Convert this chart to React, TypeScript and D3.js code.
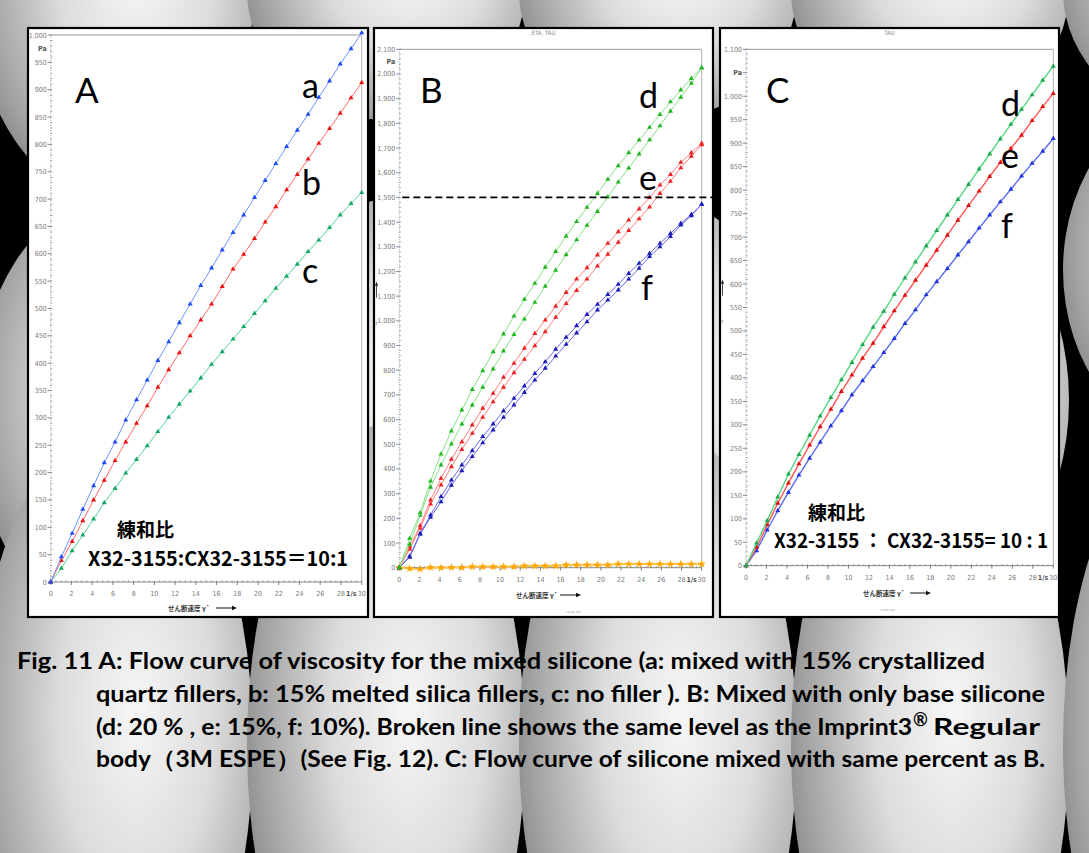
import React from 'react';
import * as d3 from 'd3';

// shear rate (1/s) at each measuring point, shared by all curves
const shearRate = [0, 1.03, 2.07, 3.1, 4.14, 5.17, 6.21, 7.24, 8.28, 9.31, 10.34, 11.38, 12.41, 13.45, 14.48, 15.52, 16.55, 17.59, 18.62, 19.66, 20.69, 21.72, 22.76, 23.79, 24.83, 25.86, 26.9, 27.93, 28.97, 30];

// panel A: shear stress (Pa)
const aQuartz = [0, 46, 89, 133, 176, 218, 256, 296, 333, 369, 405, 439, 474, 508, 542, 574, 607, 639, 671, 703, 734, 765, 796, 826, 855, 886, 916, 947, 975, 1004];
const aSilica = [0, 39, 74, 112, 150, 186, 222, 256, 290, 322, 356, 388, 419, 450, 479, 508, 540, 572, 599, 628, 658, 686, 717, 745, 773, 802, 829, 857, 885, 913];
const aNoFiller = [0, 25, 57, 86, 115, 145, 171, 199, 224, 249, 275, 301, 325, 349, 373, 398, 421, 444, 467, 491, 514, 537, 559, 581, 604, 625, 648, 671, 692, 712];

// panel B: up / down curves
const bD20Up = [0, 119, 222, 351, 460, 554, 639, 722, 798, 875, 947, 1019, 1087, 1152, 1217, 1281, 1343, 1402, 1460, 1516, 1573, 1628, 1681, 1732, 1784, 1836, 1887, 1935, 1982, 2025];
const bD20Down = [0, 95, 212, 326, 416, 501, 582, 659, 731, 805, 878, 945, 1007, 1075, 1140, 1205, 1268, 1328, 1387, 1443, 1502, 1562, 1619, 1676, 1733, 1790, 1849, 1906, 1962, 2025];
const bE15Up = [0, 85, 170, 274, 362, 439, 510, 578, 646, 706, 771, 828, 889, 949, 1003, 1059, 1115, 1169, 1215, 1267, 1314, 1361, 1408, 1453, 1499, 1550, 1593, 1642, 1681, 1719];
const bE15Down = [0, 75, 160, 258, 335, 409, 479, 544, 609, 672, 731, 790, 844, 899, 956, 1014, 1070, 1123, 1169, 1222, 1270, 1318, 1366, 1413, 1461, 1516, 1565, 1620, 1667, 1713];
const bF10Up = [0, 47, 139, 213, 288, 355, 416, 474, 531, 582, 635, 686, 736, 787, 834, 885, 933, 980, 1026, 1067, 1107, 1148, 1192, 1233, 1273, 1314, 1354, 1395, 1431, 1472];
const bF10Down = [0, 42, 135, 204, 267, 334, 393, 450, 506, 558, 609, 659, 710, 760, 808, 857, 905, 951, 996, 1044, 1084, 1125, 1169, 1213, 1260, 1300, 1341, 1388, 1426, 1472];
const bBase = [0, -3, -6, 1, 0, 1, 1, 4, 4, 4, 4, 4, 7, 7, 7, 7, 11, 11, 11, 11, 11, 15, 15, 15, 15, 15, 15, 15, 15, 15];
const bLevel = 1500;

// panel C
const cD20 = [0, 48, 96, 146, 195, 237, 278, 319, 358, 396, 433, 471, 508, 542, 578, 613, 647, 681, 714, 747, 780, 812, 845, 877, 909, 940, 972, 1003, 1034, 1064];
const cE15 = [0, 39, 87, 133, 176, 217, 257, 296, 333, 371, 406, 442, 474, 509, 543, 576, 608, 640, 672, 704, 736, 767, 798, 829, 859, 889, 917, 948, 978, 1006];
const cF10 = [0, 32, 76, 117, 156, 193, 229, 263, 298, 330, 364, 394, 424, 454, 484, 516, 545, 577, 605, 633, 662, 690, 719, 747, 775, 802, 830, 857, 883, 910];

const captionLines = [
  'Fig. 11  A: Flow curve of viscosity for the mixed silicone (a: mixed  with 15% crystallized',
  'quartz fillers, b: 15% melted silica fillers, c: no filler ). B: Mixed with only base silicone',
  '(d: 20 % , e: 15%, f: 10%). Broken line shows the same level as the Imprint3',
  'body（3M ESPE）(See Fig. 12). C: Flow curve of silicone mixed with same percent as B.',
];

const tickFont = '"Liberation Sans Narrow", "DejaVu Sans Condensed", sans-serif';
const labelFont = 'Lato, "Open Sans", sans-serif';
const jpFont = '"Noto Sans CJK JP", sans-serif';

type Series = { values: number[]; line: string; mark: string; width?: number; star?: boolean };

const panels = [
  {
    key: 'A', frame: [28, 28, 340, 589], xr: [50.7, 361.7], yr: [582, 35], yMax: 1000, yStep: 50, yMinor: 10, pa: 975,
    title: '', letter: [75, 103], tags: [['a', 302, 98], ['b', 302, 195], ['c', 302, 283]],
    series: [
      { values: aNoFiller, line: '#52d39a', mark: '#16a866' },
      { values: aSilica, line: '#ff6a6a', mark: '#ee1010' },
      { values: aQuartz, line: '#6d93ff', mark: '#1f4cf5' },
    ] as Series[],
    note: [117, 537, 88, 566, 260, 'X32-3155:CX32-3155＝10:1'], axisLab: [168, 611, 216],
  },
  {
    key: 'B', frame: [374, 28, 339, 589], xr: [399.3, 701.7], yr: [567.7, 49.3], yMax: 2100, yStep: 100, yMinor: 20, pa: 2050,
    title: 'ETA, TAU', letter: [420, 103], tags: [['d', 639, 108], ['e', 639, 190], ['f', 641, 300]],
    series: [
      { values: bBase, line: '#ffc24a', mark: '#ffa500', width: 2, star: true },
      { values: bF10Down, line: '#6a6ae8', mark: '#1c1cb8' },
      { values: bF10Up, line: '#6a6ae8', mark: '#1c1cb8' },
      { values: bE15Down, line: '#ff8080', mark: '#ee2222' },
      { values: bE15Up, line: '#ff8080', mark: '#ee2222' },
      { values: bD20Down, line: '#88e088', mark: '#22b522' },
      { values: bD20Up, line: '#88e088', mark: '#22b522' },
    ] as Series[],
    note: null, axisLab: [516, 598, 560],
  },
  {
    key: 'C', frame: [720, 28, 339, 589], xr: [746, 1053.3], yr: [565.7, 49.3], yMax: 1100, yStep: 50, yMinor: 10, pa: 1050,
    title: 'TAU', letter: [766, 103], tags: [['d', 1001, 116], ['e', 1001, 168], ['f', 1001, 238]],
    series: [
      { values: cF10, line: '#5a6cf2', mark: '#2234e0', width: 1.4 },
      { values: cE15, line: '#ff5454', mark: '#e01010', width: 1.4 },
      { values: cD20, line: '#56d883', mark: '#1fa84f', width: 1.4 },
    ] as Series[],
    note: [808, 520, 774, 548, 274, 'X32-3155 ： CX32-3155= 10 : 1'], axisLab: [863, 596, 910],
  },
];

// background lens pattern (decoration only)
const bgLenses = [
  { cx: 114, cy: 0, ry: 200 },
  { cx: 386, cy: -10, ry: 130 },
  { cx: 658, cy: -10, ry: 130 },
  { cx: 930, cy: -10, ry: 130 },
  { cx: 1202, cy: -10, ry: 130 },
  { cx: 114, cy: 413, ry: 215 },
  { cx: 386, cy: 400, ry: 200 },
  { cx: 658, cy: 400, ry: 200 },
  { cx: 930, cy: 400, ry: 200 },
  { cx: 1202, cy: 270, ry: 175 },
  { cx: 114, cy: 745, ry: 320 },
  { cx: 386, cy: 745, ry: 320 },
  { cx: 658, cy: 745, ry: 320 },
  { cx: 930, cy: 745, ry: 320 },
  { cx: 1202, cy: 745, ry: 320 },
];

function Panel({ p }: { p: (typeof panels)[number] }) {
  const [fx, fy, fw, fh] = p.frame;
  const x = d3.scaleLinear().domain([0, 30]).range(p.xr);
  const y = d3.scaleLinear().domain([0, p.yMax]).range(p.yr);
  const line = d3.line<number>().x((_, i) => x(shearRate[i])).y((v) => y(v));
  const tri = d3.symbol(d3.symbolTriangle, 11)();
  const star = d3.symbol(d3.symbolStar, 22)();
  const yMajor = d3.range(0, p.yMax + 1, p.yStep);
  const yMinor = d3.range(0, p.yMax + 1, p.yMinor);
  const xMajor = d3.range(0, 29, 2);
  const xMinor = d3.range(0, 30.01, 0.5);
  const x0 = p.xr[0];
  const y0 = p.yr[0];
  const tickFill = '#7a7a7a';
  return (
    <g>
      <rect x={fx} y={fy} width={fw} height={fh} fill="#fff" stroke="#000" strokeWidth={2.2} />
      {p.title && (
        <text x={fx + fw / 2} y={fy + 7} fontSize={6} fill="#888" textAnchor="middle" fontFamily={tickFont}>{p.title}</text>
      )}
      {/* plot frame */}
      <line x1={x0} x2={p.xr[1]} y1={p.yr[1]} y2={p.yr[1]} stroke="#9a9a9a" strokeWidth={1} />
      <line x1={p.xr[1]} x2={p.xr[1]} y1={p.yr[1]} y2={y0} stroke="#b0b0b0" strokeWidth={1} />
      {/* y axis */}
      <line x1={x0} x2={x0} y1={p.yr[1]} y2={y0} stroke="#888" strokeWidth={0.8} strokeDasharray="1,1.5" />
      {yMinor.map((v) => (
        <line key={'ym' + v} x1={x0} x2={x0 + 1.6} y1={y(v)} y2={y(v)} stroke="#777" strokeWidth={0.7} />
      ))}
      {yMajor.map((v) => (
        <g key={'y' + v}>
          <line x1={x0 - 3} x2={x0} y1={y(v)} y2={y(v)} stroke="#666" strokeWidth={0.8} />
          {v !== p.pa && (
            <text x={x0 - 4} y={y(v) + 2.5} fontSize={7} fill={tickFill} textAnchor="end" fontFamily={tickFont}>{d3.format(',')(v)}</text>
          )}
        </g>
      ))}
      <text x={x0 - 4} y={y(p.pa) + 2.5} fontSize={7} fill="#555" textAnchor="end" fontFamily={tickFont} fontWeight="bold">Pa</text>
      {/* x axis */}
      <line x1={x0} x2={p.xr[1]} y1={y0} y2={y0} stroke="#777" strokeWidth={0.9} />
      {xMinor.map((v) => (
        <line key={'xm' + v} x1={x(v)} x2={x(v)} y1={y0 - 1.6} y2={y0} stroke="#777" strokeWidth={0.7} />
      ))}
      {xMajor.concat([30]).map((v) => (
        <g key={'x' + v}>
          <line x1={x(v)} x2={x(v)} y1={y0} y2={y0 + 3} stroke="#666" strokeWidth={0.8} />
          <text x={x(v)} y={y0 + 14} fontSize={7} fill={tickFill} textAnchor="middle" fontFamily={tickFont}>{v}</text>
        </g>
      ))}
      <text x={x(29)} y={y0 + 14} fontSize={7} fill="#555" textAnchor="middle" fontFamily={tickFont} fontWeight="bold">1/s</text>
      <text x={p.axisLab[0]} y={p.axisLab[1]} fontSize={6.5} fill="#333" fontFamily={jpFont} fontWeight="bold">せん断速度 γ̇</text>
      <line x1={p.axisLab[2]} x2={p.axisLab[2] + 17} y1={p.axisLab[1] - 3} y2={p.axisLab[1] - 3} stroke="#111" strokeWidth={1} />
      <path d={`M${p.axisLab[2] + 21},${p.axisLab[1] - 3}l-5,-2.2v4.4z`} fill="#111" />
      {p.key !== 'A' && (
        <g>
          <line x1={fx + 2.5} x2={fx + 2.5} y1={y0 - 270} y2={y0 - 283} stroke="#222" strokeWidth={0.8} />
          <path d={`M${fx + 2.5},${y0 - 286}l-1.6,4h3.2z`} fill="#222" />
          <text x={fx + 1.5} y={y0 - 243} fontSize={5} fill="#444" fontFamily={tickFont}>t</text>
        </g>
      )}
      {/* curves */}
      {p.series.map((s, si) => (
        <g key={'s' + si}>
          <path d={line(s.values) || ''} fill="none" stroke={s.line} strokeWidth={s.width ?? 1} />
          {s.values.map((v, i) => (
            <path key={i} d={(s.star ? star : tri) || ''} transform={`translate(${x(shearRate[i])},${y(v)})`} fill={s.mark} />
          ))}
        </g>
      ))}
      {p.key === 'B' && (
        <line x1={x(0.3)} x2={fx + fw} y1={y(bLevel)} y2={y(bLevel)} stroke="#000" strokeWidth={1.6} strokeDasharray="7,4" />
      )}
      {/* letters */}
      <text x={p.letter[0]} y={p.letter[1]} fontSize={35} fontFamily={labelFont} fill="#000">{p.key}</text>
      {p.tags.map(([t, tx, ty]) => (
        <text key={t as string} x={tx as number} y={ty as number} fontSize={34} fontFamily={labelFont} fill="#000">{t}</text>
      ))}
      {p.note && (
        <g fontFamily={jpFont} fontWeight="bold" fill="#000">
          <text x={p.note[0] as number} y={p.note[1] as number} fontSize={19}>練和比</text>
          <text x={p.note[2] as number} y={p.note[3] as number} fontSize={20} textLength={p.note[4] as number} lengthAdjust="spacingAndGlyphs">{p.note[5]}</text>
        </g>
      )}
      {p.key !== 'A' && (
        <text x={fx + fw / 2 + (p.key === 'B' ? 30 : -2)} y={y0 + 45} fontSize={3} fill="#888" textAnchor="middle" fontFamily={tickFont}>cursor line</text>
      )}
    </g>
  );
}

export default function App() {
  const capX = [17, 96, 96, 96];
  const capLen = [968, 949, 816, 949];
  const capY = [669, 702, 735, 767];
  return (
    <svg width={1089} height={853} viewBox="0 0 1089 853" style={{ position: 'absolute', left: 0, top: 0 }}>
      <defs>
        <radialGradient id="lens" cx="0.58" cy="0.45" r="0.62">
          <stop offset="0" stopColor="#f6f6f6" />
          <stop offset="0.45" stopColor="#dcdcdc" />
          <stop offset="0.85" stopColor="#a4a4a4" />
          <stop offset="1" stopColor="#8a8a8a" />
        </radialGradient>
      </defs>
      <rect width={1089} height={853} fill="#000" />
      {bgLenses.map((l, i) => (
        <ellipse key={i} cx={l.cx} cy={l.cy} rx={139} ry={l.ry} fill="url(#lens)" />
      ))}
      {panels.map((p) => (
        <Panel key={p.key} p={p} />
      ))}
      <g fontFamily={labelFont} fontWeight="bold" fontSize={23} fill="#000">
        {captionLines.map((t, i) => (
          <text key={i} x={capX[i]} y={capY[i]} textLength={capLen[i]} lengthAdjust="spacingAndGlyphs">{t}</text>
        ))}
        <text x={913} y={726} fontSize={18}>®</text>
        <text x={933} y={735} textLength={107} lengthAdjust="spacingAndGlyphs">Regular</text>
      </g>
    </svg>
  );
}
